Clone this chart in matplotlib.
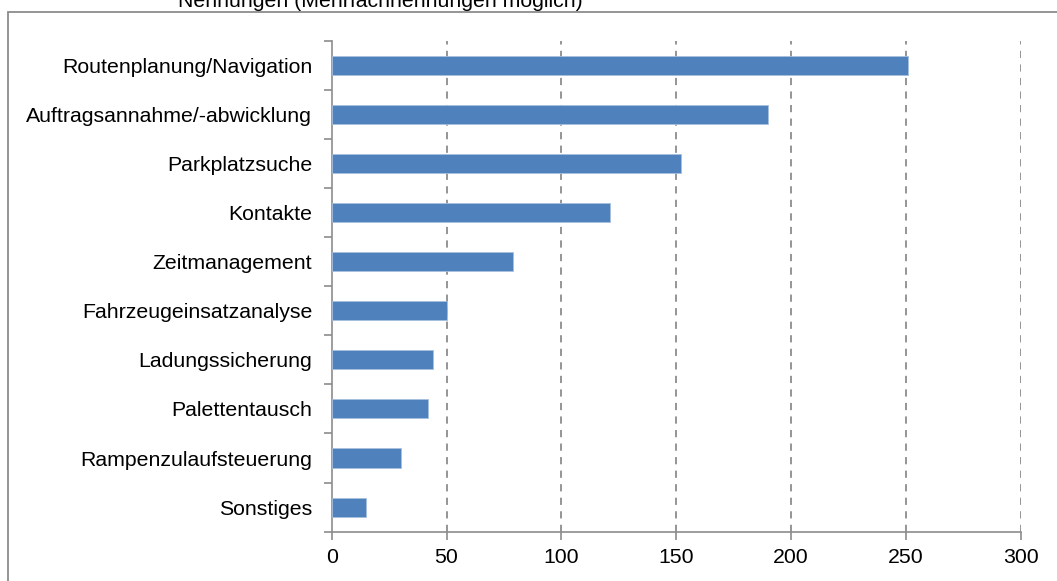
import matplotlib.pyplot as plt
import numpy as np
from matplotlib.patches import Rectangle

plt.rcParams['font.family'] = ['Liberation Sans', 'DejaVu Sans']

# Nennungen je Einsatzbereich
kategorien = ['Routenplanung/Navigation', 'Auftragsannahme/-abwicklung', 'Parkplatzsuche',
              'Kontakte', 'Zeitmanagement', 'Fahrzeugeinsatzanalyse', 'Ladungssicherung',
              'Palettentausch', 'Rampenzulaufsteuerung', 'Sonstiges']
nennungen = [251, 190, 152, 121, 79, 50, 44, 42, 30, 15]
xticks = [0, 50, 100, 150, 200, 250, 300]
titel = 'Nennungen (Mehrfachnennungen möglich)'

fig = plt.figure(figsize=(10.57, 5.81), dpi=100)
ax = fig.add_axes([0.3138, 0.0849, 0.6519, 0.8451])

# Rahmen um das Diagramm (rechts und unten abgeschnitten)
fig.patches.append(Rectangle((8 / 1057, -0.1), 1.2, 1 - 12 / 581 + 0.1,
                             transform=fig.transFigure, fill=False,
                             edgecolor='#8c8c8c', linewidth=1.3))

y = np.arange(len(kategorien))[::-1]
ax.barh(y, nennungen, height=0.39, color='#4f81bd', edgecolor='#a7bfde',
        linewidth=0.6, zorder=3)

ax.set_xlim(0, 300)
ax.set_ylim(-0.5, len(kategorien) - 0.5)
ax.set_xticks(xticks)
ax.set_xticklabels([str(v) for v in xticks])
ax.set_yticks(y)
ax.set_yticklabels(kategorien)
ax.set_yticks(np.arange(-0.5, len(kategorien)), minor=True)

for v in xticks[1:]:
    ax.axvline(v, color='#8c8c8c', linestyle=(0, (4, 3.5)), linewidth=1.3, zorder=1)

for side in ['top', 'right']:
    ax.spines[side].set_visible(False)
for side in ['left', 'bottom']:
    ax.spines[side].set_color('#8c8c8c')
    ax.spines[side].set_linewidth(1.2)

ax.tick_params(axis='y', which='major', length=0, pad=14, labelsize=15.3)
ax.tick_params(axis='y', which='minor', length=6, width=1.2, color='#8c8c8c')
ax.tick_params(axis='x', length=6, width=1.2, color='#8c8c8c', labelsize=15.3, pad=6)

fig.text(0.36, 1 - 7 / 581, titel, ha='center', va='baseline', fontsize=15.3)

fig.savefig('out.png', dpi=100)
